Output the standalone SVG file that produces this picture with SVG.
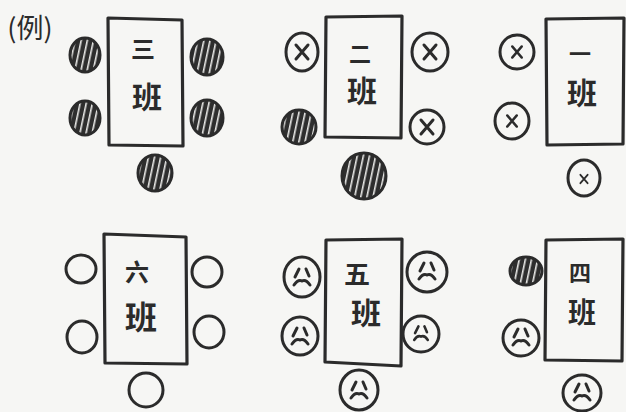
<svg xmlns="http://www.w3.org/2000/svg" xmlns:xlink="http://www.w3.org/1999/xlink" width="626" height="412" viewBox="0 0 626 412">
<style>
.tbl{fill:none;stroke:#2b2b2b;stroke-width:3.2;stroke-linejoin:round}
.seat{stroke:#2b2b2b;stroke-width:3;fill:none}
.hatch{stroke:#2b2b2b;stroke-width:3;fill:url(#hp)}
.mark{stroke:#2b2b2b;stroke-width:3;fill:none;stroke-linecap:round}
.lbl{font-family:"Noto Sans CJK SC","Noto Sans CJK JP",sans-serif;font-weight:bold;fill:#2b2b2b;text-anchor:middle}
</style>
<defs>
<pattern id="hp" patternUnits="userSpaceOnUse" width="6" height="6" patternTransform="rotate(12)">
<rect width="6" height="6" fill="#2e2e2e"/>
<rect x="3" width="1.6" height="6" fill="#e8e8e6"/>
</pattern>
<g id="xm"><path class="mark" d="M-6,-7 L6,7 M6,-7 L-6,7"/></g>
<g id="face"><path class="mark" d="M-3,-9 L-7,-1 M4,-9 L7,-2 M-8,7 Q-4,1 0,3 Q4,1 8,7" stroke-width="2.6"/></g>
</defs>
<rect width="626" height="412" fill="#f6f6f4"/>
<text x="30" y="38" class="lbl" style="font-size:27px;font-weight:normal">(例)</text>
<g id="connectors"/>
<g id="t3"><path class="tbl" d="M108,18 L182,20 L183,146 L109,145 Z"/><text class="lbl" x="143" y="58" font-size="24">三</text><text class="lbl" x="147" y="108" font-size="30">班</text></g>
<g id="t2"><path class="tbl" d="M326,17 L402,16 L401,138 L325,137 Z"/><text class="lbl" x="360" y="62" font-size="22">二</text><text class="lbl" x="362" y="102" font-size="30">班</text></g>
<g id="t1"><path class="tbl" d="M546,19 L624,18 L623,144 L547,145 Z"/><text class="lbl" x="580" y="62" font-size="22">一</text><text class="lbl" x="582" y="104" font-size="30">班</text></g>
<g id="t6"><path class="tbl" d="M104,234 L186,237 L187,364 L105,363 Z"/><text class="lbl" x="137" y="281" font-size="24">六</text><text class="lbl" x="141" y="329" font-size="32">班</text></g>
<g id="t5"><path class="tbl" d="M326,240 L402,239 L401,366 L325,362 Z"/><text class="lbl" x="357" y="284" font-size="26">五</text><text class="lbl" x="366" y="324" font-size="30">班</text></g>
<g id="t4"><path class="tbl" d="M546,240 L623,239 L622,361 L545,360 Z"/><text class="lbl" x="580" y="281" font-size="22">四</text><text class="lbl" x="582" y="323" font-size="28">班</text></g>
<g id="s3a"><ellipse class="hatch" cx="85" cy="55" rx="15" ry="17"/></g>
<g id="s3b"><ellipse class="hatch" cx="85" cy="118" rx="15" ry="17"/></g>
<g id="s3c"><ellipse class="hatch" cx="207" cy="57" rx="16" ry="18"/></g>
<g id="s3d"><ellipse class="hatch" cx="207" cy="118" rx="16" ry="18"/></g>
<g id="s3e"><ellipse class="hatch" cx="155" cy="173" rx="17" ry="18"/></g>
<g id="s2a"><ellipse class="seat" cx="302" cy="52" rx="16" ry="19"/><use xlink:href="#xm" transform="translate(302,52)"/></g>
<g id="s2b"><ellipse class="hatch" cx="299" cy="127" rx="17" ry="17"/></g>
<g id="s2c"><ellipse class="seat" cx="430" cy="52" rx="18" ry="19"/><use xlink:href="#xm" transform="translate(430,52)"/></g>
<g id="s2d"><ellipse class="seat" cx="427" cy="127" rx="17" ry="17"/><use xlink:href="#xm" transform="translate(427,127)"/></g>
<g id="s2e"><ellipse class="hatch" cx="364" cy="176" rx="22" ry="23"/></g>
<g id="s1a"><ellipse class="seat" cx="517" cy="52" rx="17" ry="17"/><use xlink:href="#xm" transform="translate(517,52) scale(0.8)"/></g>
<g id="s1b"><ellipse class="seat" cx="512" cy="121" rx="17" ry="18"/><use xlink:href="#xm" transform="translate(512,121) scale(0.8)"/></g>
<g id="s1c"><ellipse class="seat" cx="584" cy="178" rx="16" ry="18"/><use xlink:href="#xm" transform="translate(584,179) scale(0.6)"/></g>
<g id="s6a"><ellipse class="seat" cx="81" cy="269" rx="15" ry="14"/></g>
<g id="s6b"><ellipse class="seat" cx="82" cy="337" rx="15" ry="16"/></g>
<g id="s6c"><ellipse class="seat" cx="207" cy="272" rx="15" ry="15"/></g>
<g id="s6d"><ellipse class="seat" cx="209" cy="332" rx="15" ry="16"/></g>
<g id="s6e"><ellipse class="seat" cx="146" cy="390" rx="17" ry="17"/></g>
<g id="s5a"><ellipse class="seat" cx="302" cy="277" rx="18" ry="20"/><use xlink:href="#face" transform="translate(302,278)"/></g>
<g id="s5b"><ellipse class="seat" cx="300" cy="336" rx="18" ry="19"/><use xlink:href="#face" transform="translate(300,337)"/></g>
<g id="s5c"><ellipse class="seat" cx="427" cy="272" rx="20" ry="20"/><use xlink:href="#face" transform="translate(427,272)"/></g>
<g id="s5d"><ellipse class="seat" cx="421" cy="334" rx="18" ry="18"/><use xlink:href="#face" transform="translate(421,334) scale(0.85)"/></g>
<g id="s5e"><ellipse class="seat" cx="359" cy="390" rx="19" ry="20"/><use xlink:href="#face" transform="translate(359,391)"/></g>
<g id="s4a"><ellipse class="hatch" cx="526" cy="271" rx="16" ry="14"/></g>
<g id="s4b"><ellipse class="seat" cx="521" cy="338" rx="18" ry="18"/><use xlink:href="#face" transform="translate(521,338)"/></g>
<g id="s4c"><ellipse class="seat" cx="582" cy="393" rx="19" ry="18"/><use xlink:href="#face" transform="translate(582,393)"/></g>
</svg>
